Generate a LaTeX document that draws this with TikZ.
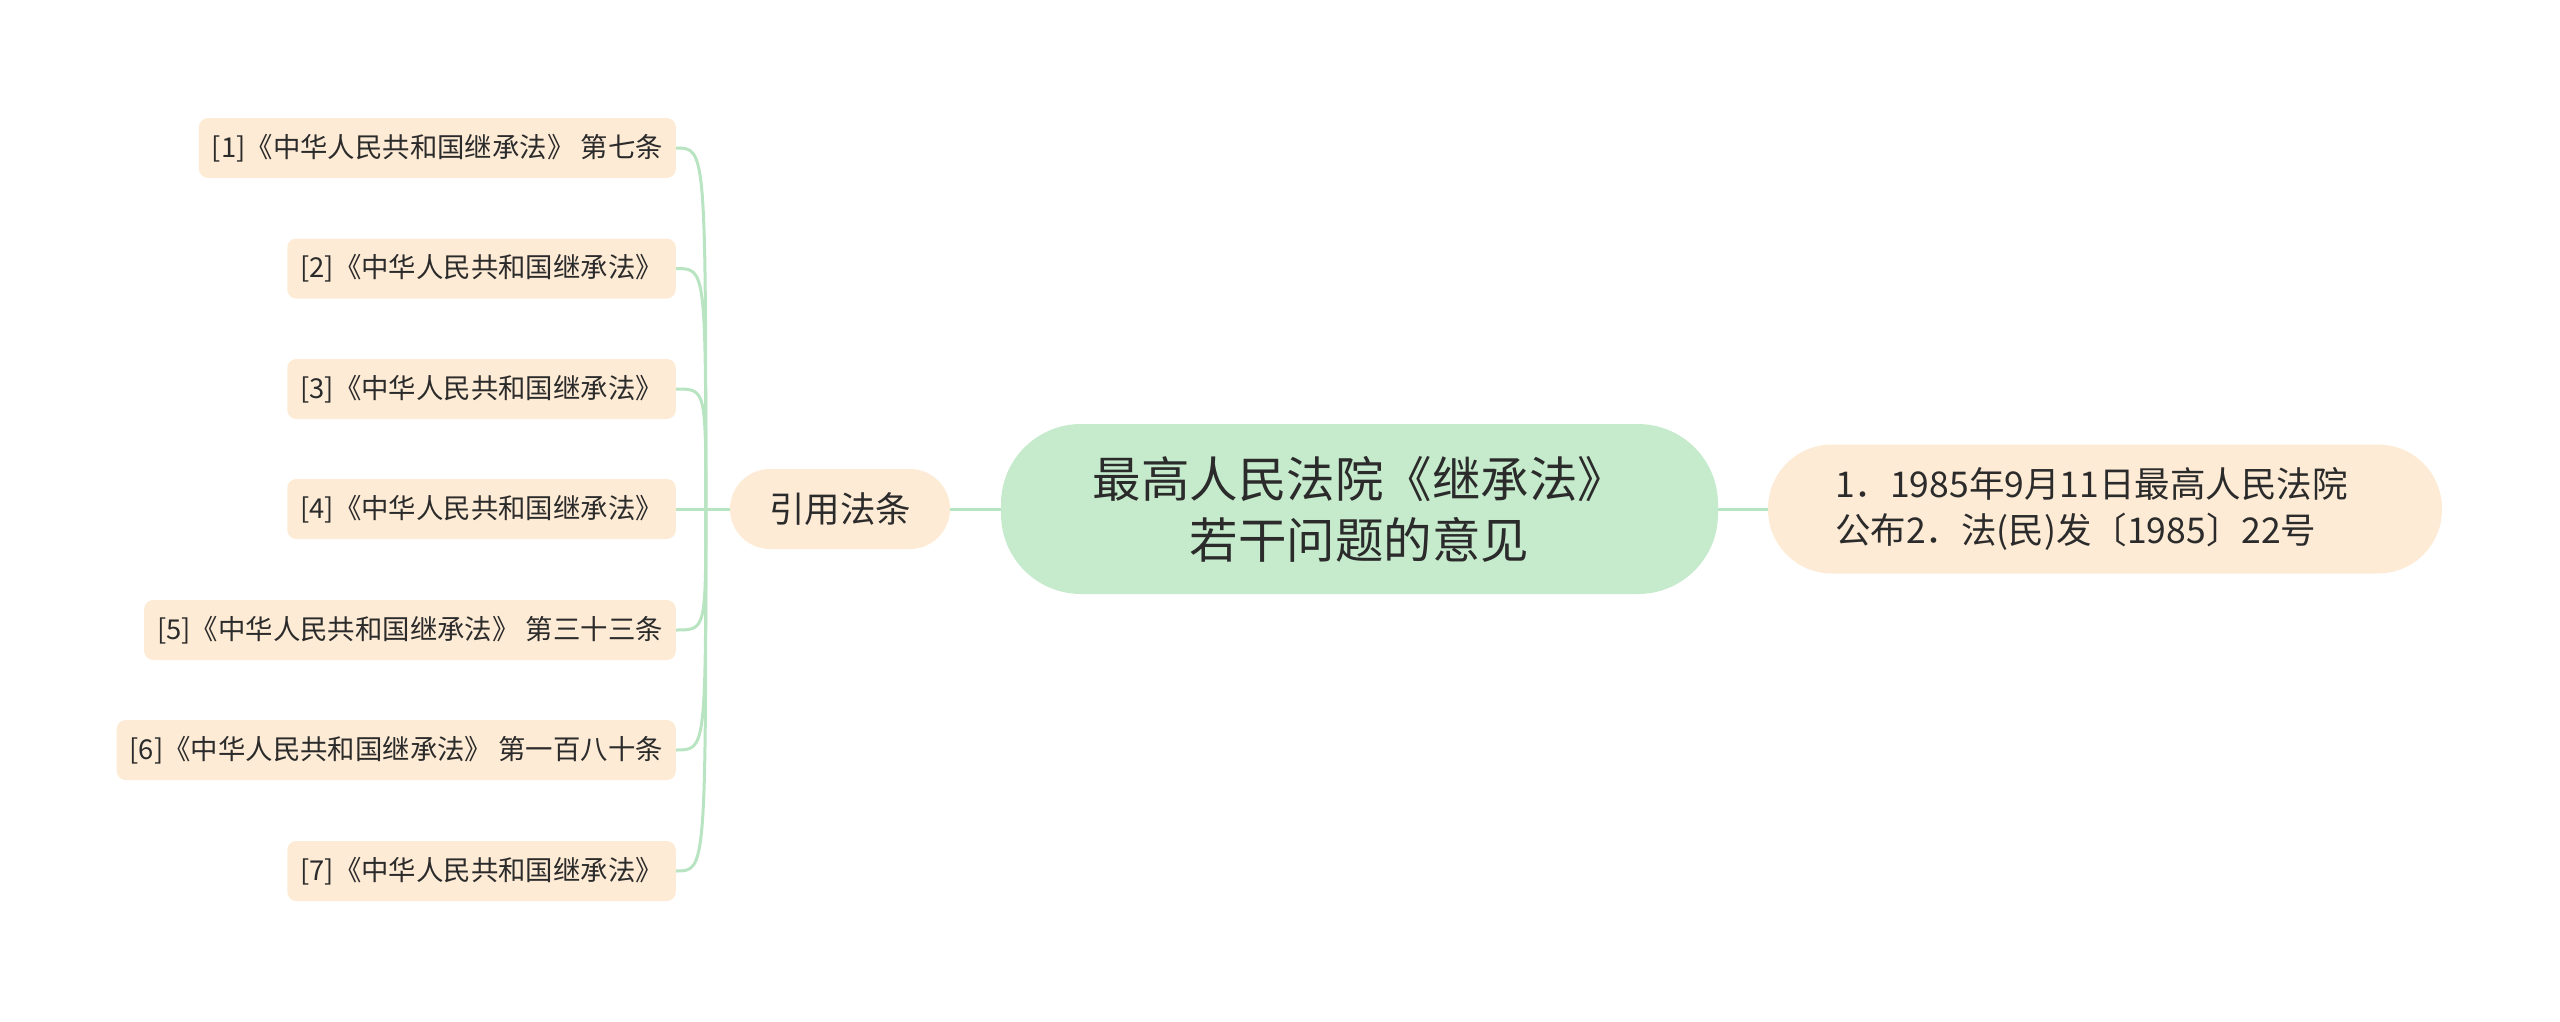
\documentclass[tikz,border=0pt]{standalone}
\usepackage{fontspec}
\newfontfamily\cjk{Noto Sans CJK SC}
\definecolor{peach}{HTML}{FDEBD5}
\definecolor{mint}{HTML}{C6EBCC}
\definecolor{twig}{HTML}{B8E4C2}
\definecolor{ink}{HTML}{2B2B2B}
\begin{document}
\begin{tikzpicture}[x=1pt, y=-1pt,
  leaf/.style={rectangle, fill=peach, rounded corners=9pt, minimum height=60pt, inner xsep=13pt, anchor=east,
    text=ink, font=\cjk\fontsize{27.4}{32}\selectfont},
  rootbox/.style={rectangle, fill=mint, rounded corners=80pt, minimum height=170pt, minimum width=717pt,
    align=center, text=ink, font=\cjk\fontsize{48.5}{61}\selectfont},
  topic/.style={rectangle, fill=peach, rounded corners=40pt, minimum height=80pt, minimum width=220pt,
    text=ink, font=\cjk\fontsize{35.5}{42}\selectfont},
  twigline/.style={draw=twig, line width=3pt}]
  \useasboundingbox (0,0) rectangle (2560,1021);

  \node (root) [rootbox] at (1359.5, 509) {最高人民法院《继承法》\\若干问题的意见};
  \node (cite) [topic] at (840, 509) {引用法条};
  \node (issue) [rectangle, fill=peach, rounded corners=64pt, minimum height=129pt, inner xsep=67pt,
    text width=540pt, align=left, text=ink, font=\cjk\fontsize{35.5}{46}\selectfont] at (2105, 509)
    {1．1985年9月11日最高人民法院\\公布2．法(民)发〔1985〕22号};

  \node (law1) [leaf] at (676, 148) {[1]《中华人民共和国继承法》 第七条};
  \node (law2) [leaf] at (676, 268.5) {[2]《中华人民共和国继承法》};
  \node (law3) [leaf] at (676, 389) {[3]《中华人民共和国继承法》};
  \node (law4) [leaf] at (676, 509) {[4]《中华人民共和国继承法》};
  \node (law5) [leaf] at (676, 630) {[5]《中华人民共和国继承法》 第三十三条};
  \node (law6) [leaf] at (676, 750) {[6]《中华人民共和国继承法》 第一百八十条};
  \node (law7) [leaf] at (676, 871) {[7]《中华人民共和国继承法》};

  \coordinate (hub) at ([xshift=-24pt]cite.west);

  \draw[twigline] (root.east) to (issue.west);
  \draw[twigline] (root.west) to (cite.east);
  \draw[twigline] (cite.west) to (hub);
  \draw[twigline] (hub) .. controls (hub |- law1.east) .. (law1.east);
  \draw[twigline] (hub) .. controls (hub |- law2.east) .. (law2.east);
  \draw[twigline] (hub) .. controls (hub |- law3.east) .. (law3.east);
  \draw[twigline] (hub) .. controls (hub |- law4.east) .. (law4.east);
  \draw[twigline] (hub) .. controls (hub |- law5.east) .. (law5.east);
  \draw[twigline] (hub) .. controls (hub |- law6.east) .. (law6.east);
  \draw[twigline] (hub) .. controls (hub |- law7.east) .. (law7.east);
\end{tikzpicture}
\end{document}
